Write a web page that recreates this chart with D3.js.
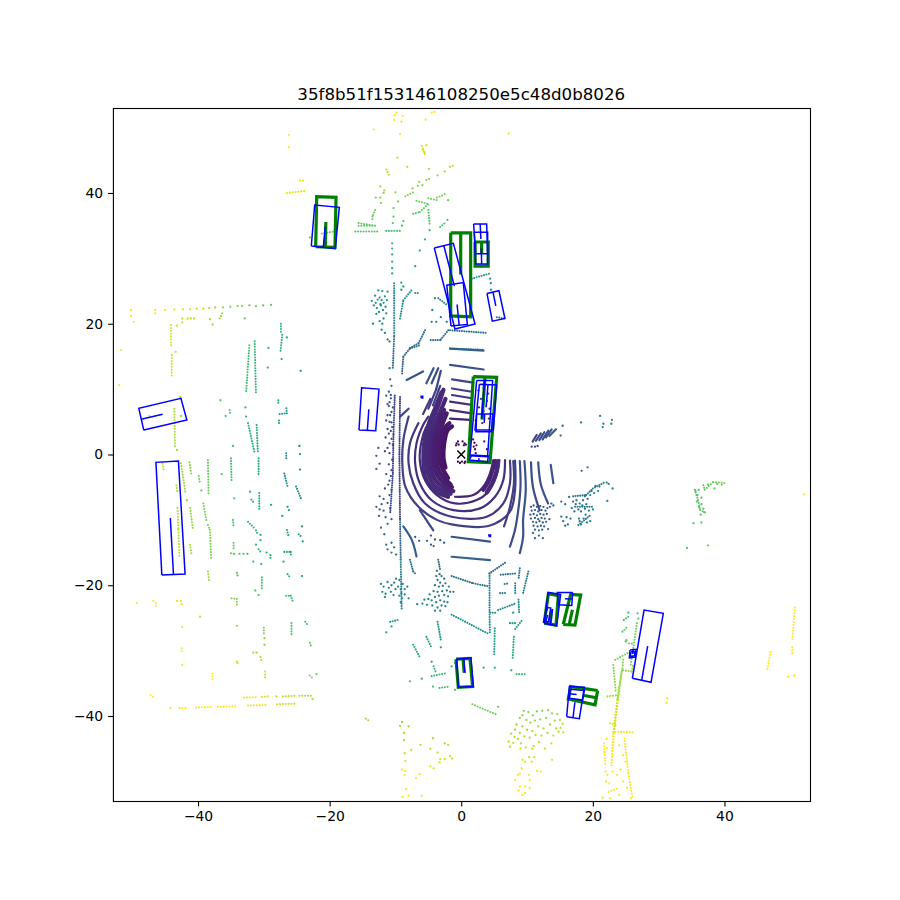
<!DOCTYPE html>
<html><head><meta charset="utf-8">
<style>html,body{margin:0;background:#fff}svg{display:block}text{font-family:"DejaVu Sans",sans-serif;fill:#000}</style>
<script src="https://cdn.jsdelivr.net/npm/d3@7"></script></head><body><div id="c"></div>
<script>
const chartTitle="35f8b51f153146108250e5c48d0b8026";
const tickValues=[-40,-20,0,20,40];
const axisLimits=[-53,53];
const colorRange=[1,50];
const egoPoint=[0,0];

// Dense returns next to the vehicle
const denseArcs=[
[[-2,-6.46],[-4.2,-5.4],[-5.5,-3.4],[-5.76,-.85],[-5.6,2],[-5,4.5],[-4,7],[-3,9.5]],
[[-1.6,-6],[-3.8,-5],[-5,-3],[-5.2,-.85],[-5.1,2],[-4.4,5],[-3.5,7.5],[-2.7,9.9]],
[[-1.2,-5.6],[-3.4,-4.5],[-4.5,-2.8],[-4.7,-.85],[-4.6,2],[-3.8,5],[-3,7],[-2.4,8.5]],
[[-1.4,-5],[-3,-4],[-4,-2.5],[-4.2,-.7],[-4.1,2],[-3.3,5],[-2.6,6.8]],
[[-1.6,-4.6],[-2.7,-3.5],[-3.5,-2.2],[-3.7,-.7],[-3.6,2],[-2.8,4.8],[-2.2,6.3]],
[[-2,-3.6],[-3,-1.8],[-3.2,-.5],[-3.1,1.8],[-2.4,4.2],[-1.8,4.8]],
[[-2.4,-2],[-2.7,-.5],[-2.6,1.6],[-2.1,3.7],[-1.4,4.3]],
[[3.35,-5.4],[4.2,-4],[4.8,-2.2],[5.2,-1]],[[3.9,-5.8],[4.8,-4.2],[5.4,-2.4],[5.6,-1]]
];
// Ground rings near the vehicle
const nearRings=[
[[4.87,-.85],[4.37,-2.89],[3.35,-4.93],[1.83,-6.2],[-.95,-6.46]],
[[5.8,-.85],[5.38,-3.14],[4.1,-5.69],[2.34,-6.97],[-.95,-7.48],[-3.7,-6.2],[-5.5,-3.9],[-6.3,-.85],[-6,2.2],[-5.4,4],[-3.8,6.3]],
[[6.65,-.85],[6.39,-3.9],[5.13,-6.46],[2.85,-8.24],[-1.2,-8.5],[-4.5,-7],[-6.3,-4.4],[-7,-1.4],[-6.8,1.7],[-5.8,4.5],[-5,5.8]],
[[7.4,-.95],[7.4,-4.42],[6.39,-7.48],[3.86,-9.52],[-1.46,-9.52],[-5.5,-7.5],[-7.3,-4.4],[-8,-1.4],[-7.8,1.7],[-6.5,4.8]],
[[8.17,-.95],[8.17,-5.44],[7.4,-8.75],[4.1,-10.94],[-1.46,-10.69],[-3.7,-10],[-6.5,-8],[-8.5,-4.9],[-8.95,-1.4],[-8.8,2.2],[-8,5.8]],
[[-1.46,-12.58],[4.37,-13.34]],[[-1.46,-15.64],[4.37,-16.15]],
[[7.9,-1],[8,-4.5],[7.4,-8],[6.5,-11]],[[8.9,-1],[9,-5],[8.6,-9],[8.17,-11.5],[7.4,-14.1]],
[[9.6,-1],[9.8,-5.5],[9.4,-10],[9.4,-12.6],[8.9,-15.1]],[[10.6,-1.2],[10.9,-5],[11.9,-8.5]],[[11.7,-1.2],[12.1,-4.6],[13.2,-7.5]],
[[13.6,-1.6],[14,-4.4]],
[[-1.7,16.2],[3.4,15.9]],[[-1.7,13.7],[3.4,13]],[[-1.4,11.5],[1.8,11]],[[-1.4,10.1],[1.6,9.6]],[[-1.4,9.1],[1.6,8.6]],[[-1.7,8.1],[1.6,7.6]],[[-1.7,6.8],[1.6,6.3]],[[-1.7,5.5],[1.3,5.3]],
[[-5.3,10.9],[-4.2,13.2]],[[-4.5,10.9],[-3.5,13.2]],[[-3.8,10],[-3.1,12.8]],[[-4.3,7.5],[-3.2,10.5]],[[-5,7],[-3.8,10]],[[-5.8,6.2],[-4.7,8.5]],
[[-6.3,-8.5],[-4.25,-11.6]],[[-8.8,-11],[-7.5,-13.1],[-6.8,-15.6]],
[[-8.3,11.4],[-5.8,12.7]],[[-9.3,5.8],[-8,7]],
[[10.85,1.97],[11.46,2.98]],[[11.36,2.1],[12.1,3.24]],[[11.87,2.2],[12.63,3.4]],[[12.38,2.3],[13.24,3.65]],[[12.88,2.63],[13.74,3.85]],[[13.39,2.83],[14.4,3.85]]
];
// Dotted traces further out
const farCurves=[
[[-10.1,9],[-10.3,3],[-10.4,-3],[-10.8,-9]],[[-9.3,8.8],[-9.4,0],[-9.3,-10],[-9.2,-16.1],[-9.05,-23.8]],
[[-9,12.4],[-8.8,15],[-7.8,16.2],[-6.3,16.7]],[[-7.8,-16.1],[-7.3,-17.9],[-6.8,-18.4]],[[-3.5,-16.1],[-3.2,-17.7]],
[[-1.46,-18.6],[1.8,-19.7],[4.3,-20.2]],[[-1.46,-24.5],[4.27,-27.5]],[[4.27,-18.2],[6.9,-16.4]],[[4.3,-18.2],[4.3,-24.1],[4.35,-27.5]],
[[8.9,-17.4],[8.7,-19.2]],[[10.2,-17.9],[9.4,-21.2]],[[6,-18.4],[8.2,-18.2]],[[6.6,-19.8],[7.3,-19.7]],[[8.2,-19.7],[8.2,-21.2]],[[5.9,-21.2],[6.8,-21.2]],
[[4.4,-24.2],[5.3,-24.2]],[[5.6,-23.8],[8.2,-22.8]],[[7.4,-25.8],[8.2,-25.8]],[[8.2,-26.7],[9.2,-25.4]],[[8.7,-22.2],[8.8,-24.3]],[[8,-27.9],[7.8,-31.4]],[[5.1,-26.6],[5,-30.7]],[[8.4,-33.6],[9.7,-33.6]],
[[1.7,-38.2],[5.4,-39.8]],[[-10.8,-25.6],[-9.6,-25.3]],[[-5.3,-27.9],[-4.5,-29.6]],[[-7.3,-29.1],[-6.2,-31.2]],[[-3.6,-25.6],[-3.1,-28.4]],[[-4.2,-32.4],[-3.8,-33.5]],[[-4.5,-33.9],[-2.5,-33.5]],[[-3.3,-35.7],[-1.8,-35.5]],[[-14.5,-40.4],[-13.9,-40.8]],
[[-10.2,26.2],[-10.2,18],[-10.4,13.2]],[[-9.3,20.8],[-8.8,23.6],[-7.5,25.2]],[[-7,24.7],[-6.4,24.7]],[[-3.5,23.9],[-2.2,22.9]],[[1.6,26.9],[4.4,27.7]],[[5.4,21],[6.6,20.8]],[[-1.7,19],[3.9,18.6]],[[-5.5,19],[-6.5,17],[-8,16.2]],[[-1.97,19],[-3.2,17.5],[-4.7,17.5]],[[-1.7,16.2],[3.4,16]],
[[-4.5,52.3],[-3.7,52.5]],[[-6,47.2],[-5.4,45.6]],[[-24.5,41.9],[-23.7,41.9]],[[-26.5,40],[-23.8,40.3]],[[-11.4,43.6],[-11,42.7]],[[-5.3,42],[-4.5,42.3]],[[-1.7,44],[-1.2,44.2]],[[-8.5,39.5],[-7.3,40.1]],[[-5,39.2],[-3.7,38.9]],[[-3.7,39.3],[-2.5,39.8]],[[-7.3,36.8],[-6.3,37.1],[-5,38.3]],[[-6.8,38.8],[-5,38.3]],[[-5,37.4],[-4.8,35.1]],[[-3.2,34.8],[-2.5,35.4]],[[-13.1,37.4],[-13.5,36.4],[-13.5,35.6]],[[-15.6,35.4],[-13.1,35]],[[-15.6,35],[-13.1,35]],[[-16.1,34.1],[-12.7,34.1]],[[-11.4,34.2],[-9,34.2]],[[-21.2,33.8],[-19.4,34.1]],
[[-44.1,19.8],[-44.1,16.5]],[[-44,15.2],[-44,12]],[[-43.6,7],[-43.5,1]],[[-32.2,16.7],[-32.7,9.4]],[[-31.4,17.3],[-31.2,9.4]],[[-27.4,20],[-27.4,18.5]],[[-27.2,18.3],[-27.5,15.5]],[[-32.4,4.8],[-31.4,.2]],[[-31.1,4.5],[-30.9,.2]],[[-30.8,-.6],[-30.8,-3.4]],[[-35,-.6],[-34.9,-4.3]],[[-38.5,-.85],[-38.4,-6.2]],[[-41.3,-1.2],[-41,-3.1]],[[-42.6,-1.35],[-41.9,-5.95]],[[-39.9,-3.3],[-39.7,-4.5]],[[-43.3,-4.7],[-43.1,-6]],[[-45.4,-1.4],[-45.2,-2.4]],[[-43.1,-8.2],[-43,-11.5],[-42.8,-15.9]],[[-41.2,-8.2],[-40.8,-11.3]],[[-39.2,-7.5],[-38.7,-10.3]],[[-38.5,-10.8],[-38.2,-11.5],[-38,-15.9]],[[-30.7,-5.9],[-30.7,-8.7]],[[-31.9,-6.9],[-31.4,-7.5]],[[-34.7,-10],[-34.6,-11]],[[-32.4,-10.3],[-31.4,-11.3]],[[-26.6,.2],[-26.6,-.6]],[[-26.9,-2.9],[-26.4,-4.9]],[[-25.1,-4.9],[-24.3,-6.9]],[[-27.6,6.2],[-26.5,6.3],[-26.6,7.3]],[[-27.8,8.3],[-27.8,7.6]],[[-27.7,5.2],[-27.7,4.7]],[[-35.2,6.8],[-35.1,6]],[[-36.7,20.8],[-36.2,21.9]],
[[-41.2,-13.8],[-41,-15.2]],[[-34.6,-13.5],[-34.6,-14.5]],[[-35,-15.1],[-34.5,-15.2],[-34.5,-15.6]],[[-31.2,-11.6],[-31,-12.1]],[[-30.8,-14.5],[-30.4,-15]],[[-26.9,-14.9],[-25.9,-14.9],[-25.9,-15.5]],[[-26.5,-11.55],[-26.2,-12.6]],[[-24.7,-12.2],[-24.2,-12.7]],[[-26.4,-18.3],[-26,-18.8]],[[-30.3,-18.8],[-30.3,-20.5]],[[-38.5,-17.9],[-38.3,-19.45]],[[-26.6,-21.6],[-25.9,-21.6],[-25.6,-22.5]],[[-34.9,-22],[-34.1,-22.1],[-34.1,-23]],[[-25.8,-25.8],[-25.8,-27.5]],[[-23.7,-25.6],[-23.4,-26]],[[-30,-26.5],[-30,-27.6]],[[-23,-28.8],[-22.8,-29.5]],[[-30.5,-31],[-30.3,-31.7]],[[-29.8,-33.2],[-29.8,-34.5]],[[-23,-33.8],[-22.6,-34.2]],[[-37.8,-33.5],[-37.8,-34.75]],[[-46.4,-22.7],[-46.4,-23.4]],[[-42.5,-29.65],[-42.5,-30.4]],[[-47.2,-36.8],[-46.6,-37.2]],
[[-42.8,-38.8],[-41.7,-38.8]],[[-40.3,-38.7],[-37.8,-38.6]],[[-37,-38.6],[-34.3,-38.5]],[[-32.4,-38.4],[-29.7,-38.3]],[[-28,-38.2],[-25.1,-38.1]],[[-33,-37.2],[-30.8,-37.1]],[[-30.3,-37.1],[-29.4,-37]],[[-27.1,-37],[-24.9,-36.9]],[[-24.6,-36.9],[-22.6,-36.9]],
[[26.7,-25.8],[25.7,-32.5]],[[24.4,-33],[23.7,-37.6],[23.1,-42.7],[22.8,-47.8]],[[24.4,-33.2],[23.8,-37.6],[23.2,-42.7],[22.9,-47]],[[23.4,-31.4],[25.6,-30.2]],[[24.6,-33],[25.9,-33.2],[26.2,-32]],[[24.6,-31.4],[24.5,-32.7]],[[23.1,-32.2],[23.5,-36.5]],[[22.2,-37],[23.9,-36.8]],[[22.6,-41.1],[23.5,-41.4]],[[23.4,-42.4],[26.1,-42.5]],[[21.7,-44.2],[21.9,-47.3]],[[24.8,-43.4],[25.4,-48.8],[26,-52.3]],[[22.4,-51.6],[24,-51]],[[24.7,-25.3],[25.4,-24.8]],[[24.5,-27.1],[25.3,-26.3]],[[25.5,-28.9],[26.2,-28.9]],
[[50.7,-23.4],[50.3,-28.4]],[[50.3,-29.5],[50.3,-30.8]],[[47,-30.2],[46.5,-33]],
[[35.5,-5.4],[36,-7],[36.3,-8.5],[37.3,-9]],[[36.8,-4.7],[37,-5.4],[38.3,-4.2],[40.3,-4.4]],
[[17,-6.4],[19,-6.2],[20,-5.2],[21.9,-4.2]],[[17.3,-8],[20,-8]],[[17.8,-10.8],[19.6,-9.3]]
];
// Individually read returns
const loosePoints=[
[-50.2,22.1],[-46.5,22.1],[-45,22.1],[-43.6,22.2],[-42.3,22.2],[-41.2,22.2],[-40.2,22.3],[-39.2,22.3],[-38.3,22.4],[-37.4,22.5],[-36.2,22.5],[-35.1,22.6],[-34,22.7],[-33.3,22.7],[-32.2,22.8],[-31.2,22.7],[-30.1,22.8],[-28.9,22.9],
[-32.9,20.8],[-37.8,19.9],[-38.2,20.7],[-42.4,20.8],[-41.6,20.8],[-41.1,20.8],[-40.6,20.8],[-42.4,20.2],[-43.2,19.7],[-50.2,21.2],[-49.8,20.3],[-46.5,21.6],[-51.7,16],[-52,10.6],[-43.4,15.7],[-26.5,17.9],[-29.3,16.3],[-27.3,14.6],[-29.4,13.3],[-24.4,12.8],[-36.6,8.3],[-35.8,5.9],[-32.8,7.2],[-32.7,5.8],[-42.6,5.9],[-47.4,5.9],[-42.7,8.8],[-43.2,.7],[-34.7,1.3],[-36.4,-3],[-39.5,-5.5],[-41.7,-7],[-32.1,-5.7],[-34.5,-6.7],[-28.9,-7.7],[-24.6,1.3],[-24.5,.07],[-24.5,-2.3],[-26.4,-8],[-26.2,-8.5],[-27.2,-9.4],[-24.2,-11],
[-33.7,-15.2],[-33.1,-15.2],[-32.5,-15.2],[-30.5,-12.3],[-30.5,-13.1],[-31.2,-13.8],[-29.6,-15],[-29,-15.4],[-29,-15.8],[-31.6,-16.4],[-30.4,-16.75],[-27,-16.4],[-24.1,-13.3],[-24.2,-18.6],[-34.1,-18.1],[-34,-18.5],[-31.3,-20.8],[-30.8,-21.5],[-34.1,-26.2],[-29.9,-28.1],[-29.9,-29.1],[-31.6,-30.3],[-31.1,-30.3],[-34.1,-31.7],[-34,-31.9],[-22,-33.6],
[-49.3,-22.7],[-46.8,-22.4],[-43.2,-22.4],[-42.6,-22.4],[-42.5,-22.9],[-39.7,-24.8],[-42.4,-26.4],[-42.4,-32.2],[-44.2,-38.8],[-28.1,-37],[-22.6,-37.4],
[-9.8,52.3],[-10.1,51.9],[-8.9,51.8],[-10.2,51.2],[-9.1,50.9],[-5.4,51.2],[-13.3,49.7],[-9.3,49],[7.2,49.1],[-5.3,47.3],[-9.7,45.4],[-26.2,48.9],[-26.2,47],[-5.8,46.6],[-5.6,46.2],
[-8.2,44],[-4.9,43.7],[-3.6,42.7],[-2.5,43.3],[-6.4,41.7],[-12.3,41],[-11.7,40.4],[-11.8,40],[-13,39.3],[-12.3,39.3],[-12.2,38.5],[-10,40.1],[-9.6,38.7],[-10.3,37.7],[-7.4,40.7],[-6.6,41.1],[-5.9,41.2],[-2,38.9],[-4.8,34.3],[-2.1,35.9],[-10.3,36.4],[-10.4,35.4],[-8.8,35.7],[-9,35],[-23,33.2],
[-10.5,32.3],[-10.5,31.5],[-10.5,30.6],[-10.5,29.5],[-10.5,28.5],[-10.5,27.7],[-7,28.8],[-6.3,31.2],[-5.5,32.9],[-9.1,26.3],[-8.8,25.7],[-9.1,25.2],
[-4,23.9],[-4.4,22.1],[-4.5,20.3],[-3.8,20.3],[-3.1,21],[-2.2,20.3],[4.4,26.9],[4.5,26.2],[4.5,25.2],
[21.1,5.9],[22.9,5.3],[22.8,4.7],[21.6,4.7],[21.5,4.2],[18.2,4.9],[15.4,4.4],[15.1,2.9],[10.7,1.2],[11.2,1.2],[11.6,1.3],[18.3,-2.5],[19.2,-1.96],
[7.9,-24.2],[7.6,-33],[5.1,-32.6],[3.4,-32.6],[5.6,-38.6],[-10.6,-26.3],[-11.4,-27.2],[-3.1,-29.5],[-4.5,-31.7],[-6,-34.3],[-7.8,-34.7],[-4.3,-35.5],[-.95,-36],[-1.46,-32.4],[-.95,-31.9],
[25.4,-24.2],[26.8,-24.3],[26.9,-25.1],[25,-28.6],[25.1,-28.4],[49.7,-34],[50.6,-33.8],[31.2,-38],[31.3,-37.3],[52.1,-6.1],[35.3,-10.5],[36.5,-10.4],[34.3,-14.3],[37.5,-13.9],
[-.7,1.7],[-.5,2],[-.4,1.5],[-.8,1.4],[.2,2],[.5,1.7],[.7,1.5],[.4,1.4],[-.5,-1.1],[-.2,-1.3],[.1,-1.1],[.5,-1.3],[.6,-1.1],
[2.6,9.8],[3.4,10.2],[4.1,9.3],[3,8.5],[3.9,8.2],[2.7,7.2],[4.3,7],[3.4,6.6],[2.2,5.2],[3.2,4.8],[4.2,5.5],[1.8,2.3],[1.9,1.2],[2.2,.2],[3.5,2],[3.9,.8],[2,1.8],[2.1,.8],[2.3,1.4]
];
// Vegetation and clutter clusters
const clusterPoints=[
[-12.1,23.6],[-12.4,24],[-13,23.2],[-13.3,22.8],[-12.8,22.4],[-12.2,22.8],[-11.8,23.2],[-11.6,24.2],[-11.2,24.9],[-12,25],[-12.6,25.1],[-13.1,24.3],[-11.5,22.6],[-11.3,23.6],[-12.5,21.8],[-12.9,21.5],[-13.4,20],[-12.4,20.4],[-12,20],[-12.1,19.1],[-11.6,18.6],[-11.2,17.6],[-10.9,17.3],[-12.3,23],[-11.9,22.1],[-12.7,23.7],[-13.6,23.5],[-11.4,21.6],[-11.8,20.8],
[-10.9,13.2],[-10.8,11.5],[-10.6,10.5],[-11,9.6],[-11.4,9],[-10.7,8.6],[-11,7.4],[-10.6,6.5],[-11.2,6],[-10.9,5],[-10.5,4.2],[-11,3.2],[-10.6,2.4],[-10.4,1.5],[-11.2,1],[-10.9,.2],[-10.5,-.8],[-11,-1.5],[-10.6,-2.4],[-11.4,-3],[-10.9,-4],[-11.6,-5.2],[-12.4,-6.4],[-11.8,-6.8],[-12.1,-7.6],[-11.2,-7.4],[-11.8,-8.6],[-12.4,-8.4],[-10.8,-8.2],
[-10.7,9.1],[-10.9,8],[-11.2,7.7],[-10.4,7.2],[-10.8,6],[-11.4,5.2],[-10.6,4.9],[-11.2,3.9],[-10.7,3.6],[-11.5,2.6],[-10.9,1.7],[-11.6,.5],[-12.6,1],[-12.9,-.2],[-12.4,-1.4],[-12.9,-2.2],[-10.7,-3.3],[-11.1,-4.6],[-10.6,-5.4],[-10.9,-6.2],[-12.9,-8],[-11.5,-9.6],[-12.5,-9.4],[-10.6,-9.9],[-11.2,-10.6],[-12.2,-11.2],[-11.7,-12.2],
[-10.6,-13.5],[-11.4,-13.8],[-10.2,-14.2],[-11.2,-14.5],[-10.6,-15],[-9.9,-15.3],[-7,-12.6],[-6.4,-13.2],[-5.2,-13.2],[-4.6,-12.4],[-4,-13],[-4.6,-13.8],[-3.2,-13.1],[-2.6,-13.5],[-4.2,-14],
[-12.2,-19.8],[-11.8,-20.2],[-11.2,-19.5],[-11,-20.4],[-10.6,-20],[-10.2,-19.6],[-10,-20.6],[-9.6,-20.2],[-9.2,-20.6],[-8.9,-19.8],[-8.6,-20.6],[-8.2,-20.2],[-9.9,-19],[-9.4,-19.2],[-10.7,-21],[-11.5,-21.3],[-9.4,-21.6],[-10.3,-21.5],[-9,-22],[-8,-22],[-11.6,-21.8],[-12,-21],[-9.1,-21.2],[-8.6,-21.4],[-9.2,-22.6],
[-3.7,-17.8],[-3.3,-18.3],[-3.8,-18.6],[-3,-18.6],[-2.6,-19],[-3.6,-19.2],[-3.2,-19.6],[-2.4,-19.7],[-1.9,-20.2],[-2.8,-20.1],[-3.4,-20.2],[-4,-20],[-4.2,-20.9],[-3.6,-21],[-2.9,-20.9],[-2.2,-20.8],[-1.7,-21],[-1.2,-21],[-4.8,-21.4],[-4,-21.8],[-3.4,-21.6],[-2.6,-21.5],[-2,-21.7],[-5.6,-22.2],[-5,-22.1],[-4.5,-22.3],[-3.8,-22.6],[-3.2,-22.3],[-2.6,-22.5],[-2.1,-22.6],[-5.9,-22.8],[-5.2,-23],[-4.4,-23.1],[-3.6,-23.4],[-3,-23.1],[-2.4,-23.2],[-6.7,-22.9],[-4,-23.9],[-3.2,-23.9],
[10.6,-8],[11,-7.8],[11.5,-8],[12,-7.9],[12.5,-8],[10.7,-8.6],[11.2,-8.5],[11.7,-8.7],[12.2,-8.5],[12.8,-8.6],[10.5,-9.2],[11,-9.1],[11.5,-9.3],[12,-9.1],[12.5,-9.2],[13,-9.1],[10.6,-9.8],[11.2,-9.7],[11.7,-9.9],[12.2,-9.7],[12.7,-9.8],[10.9,-10.3],[11.4,-10.4],[11.9,-10.2],[12.4,-10.4],[12.9,-10.3],[11,-10.9],[11.6,-11],[12.1,-10.9],[12.6,-11],[11.2,-11.5],[11.8,-11.6],[12.3,-11.5],[13.2,-11.4],[13.4,-9.9],[13.1,-8.2],[10.9,-12],[11.8,-12.4],[11.2,-12.8],[12.4,-12.8],[13.5,-8],[14,-7.8],[13.7,-7.5],
[15.2,-7.2],[15.8,-7.6],[16.4,-6.5],[17,-7.2],[17.5,-7],[18,-7.5],[18.5,-7],[19.2,-6.8],[19.6,-6.2],[20.2,-5.9],[20.8,-5.6],[20.4,-4.8],[21,-4.9],[19.8,-5.6],[18.8,-6.4],[17.4,-7.6],[17.8,-8.4],[18.2,-8.7],[18.8,-8.3],[19.4,-8.6],[17.2,-8.7],[16.8,-8.2],[20,-8.4],[18.4,-7.8],[19,-7.6],[22.4,-4.5],[23,-5.2],[22.1,-4.3],[15.2,-9.5],[15.5,-10.2],[16,-9.6],[16.6,-9.8],[16.2,-10.7],[15.8,-10.9],[18,-10.2],[18.6,-9.8],[19.1,-10.4],[18.9,-9.2],[19.6,-10.2],[18.2,-10.7],[22.2,-7.1],[17.9,-9.8],
[35.6,-5.6],[36.1,-5.4],[35.9,-6.2],[36.5,-6.6],[35.8,-7.2],[36.5,-7.6],[36.1,-8],[36.8,-8.3],[36.4,-9.2],[36.9,-8.8],[37.5,-4.6],[38.9,-4.5],[39.6,-4.6],[38.5,-5.2],
[7.2,-43.9],[7.4,-44.7],[7.6,-42.7],[7.9,-44.1],[8.1,-43.2],[8.2,-42.1],[8.4,-41.3],[8.6,-43.5],[8.9,-40.3],[8.9,-42.6],[9.1,-44.2],[9.3,-39.9],[9.3,-41.6],[9.6,-43.1],[9.8,-44.8],[9.9,-40.6],[10,-42.1],[10.2,-39.4],[10.4,-43.3],[10.5,-41],[10.8,-42.3],[10.9,-39.9],[11,-44.6],[11.2,-40.7],[11.3,-42.9],[11.5,-39.3],[11.7,-41.6],[11.8,-44],[12,-40.5],[12.2,-43],[12.3,-39.2],[12.5,-41.9],[12.7,-45],[12.9,-40.3],[13.1,-42.6],[13.2,-39.1],[13.5,-41.3],[13.7,-44.2],[13.8,-39.6],[14,-43],[14.2,-40.7],[14.4,-41.9],[14.6,-39.7],[14.8,-42.4],[15,-40.6],[15.1,-41.8],[15.4,-41.2],[15.5,-42.5],[9.5,-39.2],[10.8,-45],[9,-45],
[-9,-40.9],[-9.3,-41.5],[-8,-41.6],[-8.7,-42.6],[-8.7,-43.7],[-8.6,-45.7],[-8.5,-46.9],[-9,-48.2],[-8.5,-48.4],[-8.6,-49],[-6.2,-44.4],[-7.6,-45.2],[-4.7,-45],[-4.3,-43.4],[-3.6,-45.6],[-2.5,-44.2],[-2,-44.4],[-3.2,-46.6],[-2.5,-46.6],[-1.7,-46.1],[-1.4,-46.5],[-3.3,-47.1],[-4.7,-47.7],[-4.2,-48],[-6.9,-49.5],[-6.3,-48.9],[-8.4,-51.2],[-8.9,-52.4],[-8,-52.2],[-6,-52.2],
[9.3,-46.7],[9.7,-47],[10.3,-46.3],[10.7,-47],[11.1,-46.3],[13.8,-46.7],[9.2,-48],[8.9,-48.8],[8.6,-49],[11.5,-48.4],[12.1,-48.5],[10.3,-49],[8.2,-49.8],[10.4,-49.8],[8.9,-50.8],[8.7,-51.4],[9.7,-50.8],[10.4,-51],[9.7,-51.8],[9.3,-52.1],
[21.9,-48.5],[22,-50],[22.2,-49],[22.5,-50.3],[23,-48.5],[23.7,-49],[24.2,-48.2],[24.6,-50],[25,-47],[25.2,-51],[21.5,-52.5],[22.6,-52.6],[24,-52.1],[25.8,-52.6],[21.8,-45.5],[22.1,-43.5],[24,-44.5],[24.6,-46],[22.1,-44.9]
];
// Annotated boxes: first two corners are the front edge
const groundTruthBoxes=[
[[-22.12,31.78],[-19.19,31.69],[-19.03,39.34],[-21.97,39.43]],
[[-1.6,33.9],[1.43,33.9],[1.43,21.07],[-1.6,21.2]],
[[2.1,32.5],[4.1,32.5],[4.1,28.8],[2.1,28.8]],
[[1.83,11.9],[5.38,11.8],[4.37,-1.25],[1.07,-1.1]],
[[12.6,-25.8],[14.4,-26.1],[14.76,-21.6],[13.24,-21.3]],
[[15.5,-26],[17.29,-26.1],[18.15,-21.5],[16.63,-21.4]],
[[-.8,-31.3],[1.33,-31.2],[1.73,-35.5],[-.45,-35.6]],
[[20.73,-36.1],[20.33,-38.3],[16.28,-37.4],[16.63,-35.5]]
];
const predictedBoxes=[
[[-22.79,31.89],[-19.14,31.48],[-18.53,37.81],[-22.27,38.16]],
[[-4.1,31.6],[-1.2,32.3],[2.09,19.95],[-.96,19.2]],
[[-1.56,19.65],[.92,19.9],[.31,26.3],[-2.2,25.9]],
[[1.88,35.25],[3.86,35.25],[4.01,30.7],[2.19,30.7]],
[[2.19,29.13],[4.01,29.13],[4.01,34],[1.98,34]],
[[3.91,24.64],[5.73,25.05],[6.64,20.8],[4.72,20.4]],
[[-15.54,3.74],[-13,3.64],[-12.5,10],[-15.14,10.2]],
[[-48.25,3.74],[-49,7.06],[-42.6,8.59],[-41.7,5.27]],
[[-45.5,-18.44],[-41.97,-18.28],[-42.98,-1],[-46.4,-1.2]],
[[26,-34.24],[28.84,-34.85],[30.71,-24.3],[27.78,-23.8]],
[[25.65,-29.9],[26.56,-29.8],[26.46,-31],[25.55,-31.1]],
[[25.75,-30.2],[26.4,-30.1],[26.35,-30.8],[25.7,-30.9]],
[[16.02,-40.1],[17.95,-40.4],[18.7,-35.6],[16.43,-35.5]],
[[16.53,-35.9],[16.43,-37.3],[18.45,-37.56],[18.7,-36.1]],
[[12.58,-25.8],[14.5,-26.2],[15.11,-21.4],[13.24,-21.1]],
[[12.5,-25.6],[13.24,-25.6],[13.6,-23.5],[13.1,-23.4]],
[[16.93,-21.1],[16.8,-23.1],[14.76,-23],[14.6,-21.1]],
[[-.7,-31.3],[1.48,-31.1],[1.83,-35.5],[-.45,-35.6]],
[[2.34,11.3],[4.77,11.3],[4,-.34],[1.33,-.2]],
[[2.75,10.73],[5.38,10.63],[4.87,3.74],[2.09,3.74]],
[[2.34,6.19],[4.77,6.19],[4.62,3.49],[2.24,3.49]],
[[1.22,-.85],[4,-1.1],[4.11,-.24],[1.58,-.08]],
[[-6.1,8.65],[-5.85,8.65],[-5.85,8.9],[-6.1,8.9]],
[[4.2,-12.55],[4.45,-12.55],[4.45,-12.3],[4.2,-12.3]]
];

const pageW=900,pageH=900,plotL=112.5,plotR=810,plotT=108,plotB=801;
const x=d3.scaleLinear().domain(axisLimits).range([plotL,plotR]);
const y=d3.scaleLinear().domain(axisLimits).range([plotB,plotT]);
const color=d3.scaleSequential(d3.interpolateViridis).domain(colorRange).clamp(true);
const midRange=(p,q)=>Math.hypot((p[0]+q[0])/2,(p[1]+q[1])/2);
const gap=d3.scaleLinear().domain([10,45]).range([2.2,2.9]).clamp(true);

const svg=d3.select("#c").append("svg").attr("width",pageW).attr("height",pageH);
svg.append("defs").append("clipPath").attr("id","plot").append("rect")
 .attr("x",plotL).attr("y",plotT).attr("width",plotR-plotL).attr("height",plotB-plotT);
const plot=svg.append("g").attr("clip-path","url(#plot)");
const lineGen=d3.line().x(d=>x(d[0])).y(d=>y(d[1]));
const smoothGen=d3.line().x(d=>x(d[0])).y(d=>y(d[1])).curve(d3.curveCatmullRom);

function drawRings(data,sw){
  plot.append("g").selectAll("path").data(data).join("path")
   .attr("d",d=>smoothGen(d)).attr("fill","none")
   .attr("stroke",d=>color(d3.mean(d,p=>Math.hypot(p[0],p[1])))).attr("stroke-width",sw)
   .attr("stroke-linecap","round");
}
function drawDotted(data,sw){
  const segs=data.flatMap(c=>d3.pairs(c));
  plot.append("g").selectAll("path").data(segs).join("path")
   .attr("d",d=>lineGen(d)).attr("fill","none")
   .attr("stroke",d=>color(midRange(d[0],d[1]))).attr("stroke-width",sw)
   .attr("stroke-linecap","round")
   .attr("stroke-dasharray",d=>`0 ${gap(midRange(d[0],d[1]))}`);
}
drawRings(denseArcs,4.2);
drawRings(nearRings,2.2);
drawDotted(farCurves,2.1);
plot.append("g").selectAll("circle").data(loosePoints.concat(clusterPoints)).join("circle")
 .attr("cx",d=>x(d[0])).attr("cy",d=>y(d[1])).attr("r",1.15)
 .attr("fill",d=>color(Math.hypot(d[0],d[1])));

function drawBoxes(data,col,w){
  const g=plot.append("g").attr("fill","none").attr("stroke",col).attr("stroke-width",w);
  g.selectAll("path.box").data(data).join("path").attr("class","box")
   .attr("d",d=>lineGen(d.concat([d[0]])));
  g.selectAll("path.heading").data(data).join("path").attr("class","heading")
   .attr("d",d=>lineGen([[d3.mean(d,p=>p[0]),d3.mean(d,p=>p[1])],[(d[0][0]+d[1][0])/2,(d[0][1]+d[1][1])/2]]));
}
drawBoxes(groundTruthBoxes,"#008000",3.2);
drawBoxes(predictedBoxes,"#0000ff",1.5);

plot.append("path").attr("d",d3.symbol(d3.symbolX,42)())
 .attr("transform",`translate(${x(egoPoint[0])},${y(egoPoint[1])})`)
 .attr("fill","none").attr("stroke","#000").attr("stroke-width",1.5);

const ax=svg.append("g").attr("transform",`translate(0,${plotB+.5})`)
 .call(d3.axisBottom(x).tickValues(tickValues).tickSize(4.9).tickPadding(4.9));
const ay=svg.append("g").attr("transform",`translate(${plotL+.5},0)`)
 .call(d3.axisLeft(y).tickValues(tickValues).tickSize(4.9).tickPadding(4.9));
[ax,ay].forEach(g=>{g.select(".domain").remove();
 g.selectAll("line").attr("stroke","#000").attr("stroke-width",1.1);
 g.selectAll("text").attr("font-size",13.9).attr("fill","#000").attr("font-family",'"DejaVu Sans"');});
svg.append("rect").attr("x",plotL+.9).attr("y",plotT+.5).attr("width",plotR-plotL-.4).attr("height",plotB-plotT)
 .attr("fill","none").attr("stroke","#000").attr("stroke-width",1.1);
svg.append("text").attr("x",(plotL+plotR)/2).attr("y",100).attr("text-anchor","middle")
 .attr("font-size",16.67).text(chartTitle);
</script></body></html>
